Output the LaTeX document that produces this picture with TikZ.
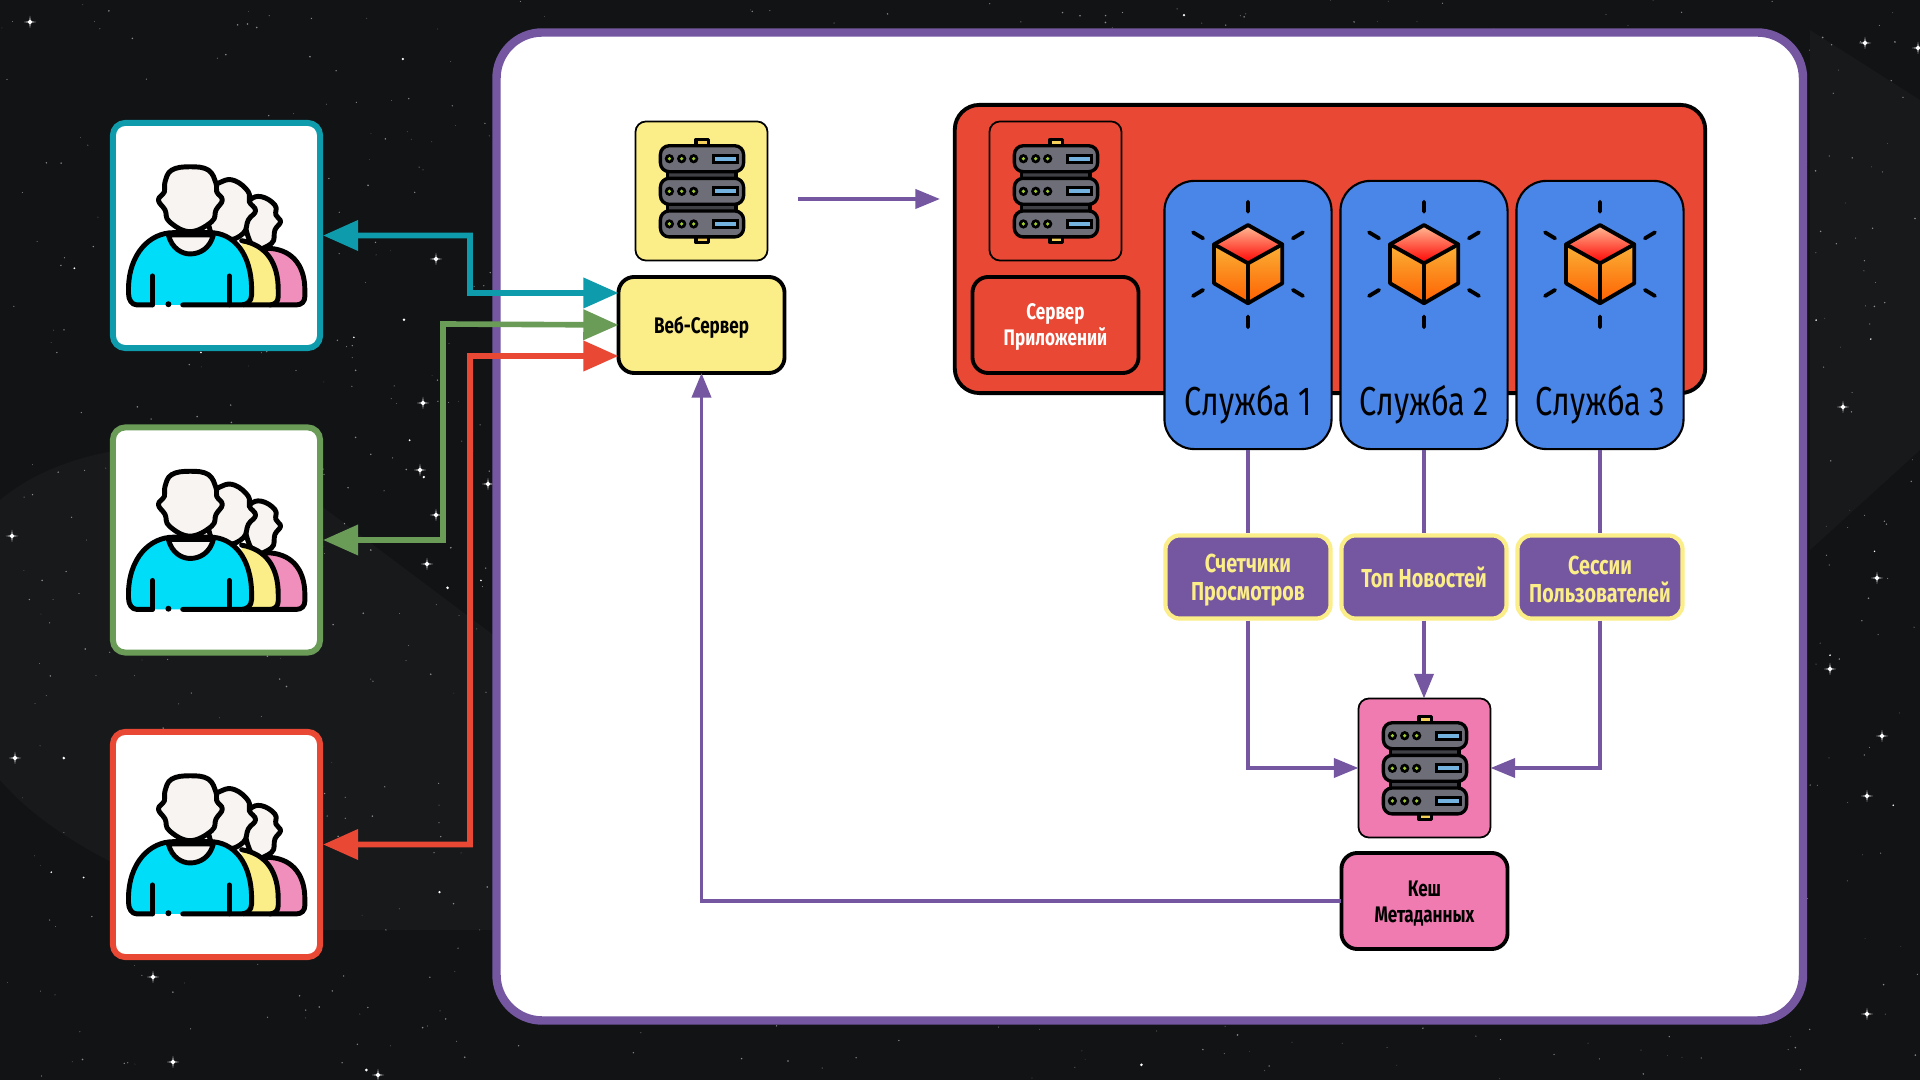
\documentclass[tikz,border=0pt]{standalone}
\usepackage{fontspec}
\newfontfamily\condfont[FakeStretch=0.76]{Fira Sans}
\usetikzlibrary{arrows.meta}

\definecolor{spacebg}{HTML}{111315}
\definecolor{spacelt}{HTML}{17191B}
\definecolor{framepurple}{HTML}{7457A0}
\definecolor{labelyellow}{HTML}{FBED87}
\definecolor{cachepink}{HTML}{EF7BB0}
\definecolor{appred}{HTML}{E84834}
\definecolor{svcblue}{HTML}{4A86E8}
\definecolor{flowteal}{HTML}{0E9CAD}
\definecolor{flowgreen}{HTML}{6A9B57}
\definecolor{skinwhite}{HTML}{F7F4F1}
\definecolor{shirtcyan}{HTML}{00DDF9}
\definecolor{rackgrey}{HTML}{6E6E78}
\definecolor{rackdark}{HTML}{3F3F46}
\definecolor{ledgreen}{HTML}{9ECB2F}
\definecolor{slotblue}{HTML}{74B3E0}
\definecolor{tabyellow}{HTML}{F5D15B}

\tikzset{
  iconbox/.style={draw=black, line width=0.5pt, rounded corners=3pt, minimum width=1.32cm, minimum height=1.39cm, outer sep=0pt},
  blacklabel/.style={draw=black, line width=1.1pt, rounded corners=4.5pt, minimum width=1.66cm, minimum height=0.96cm, outer sep=0pt,
    align=center, font=\condfont\bfseries\fontsize{6.4}{7.4}\selectfont},
  userbox/.style={draw=#1, fill=white, line width=1.7pt, rounded corners=3.5pt, minimum width=2.07cm, minimum height=2.25cm, outer sep=0.85pt},
  svcbox/.style={draw=black, fill=svcblue, line width=0.6pt, rounded corners=8.5pt, minimum width=1.67cm, minimum height=2.68cm},
  svctext/.style={font=\condfont\fontsize{11.5}{13}\selectfont},
  keybox/.style={draw=labelyellow, fill=framepurple, text=labelyellow, line width=1.2pt, rounded corners=4pt,
    minimum width=1.65cm, minimum height=0.83cm, align=center, font=\condfont\bfseries\fontsize{7.4}{8}\selectfont},
  userflow/.style={draw=#1, line width=1.6pt, {Triangle[length=10pt,width=8.4pt,fill=#1]}-{Triangle[length=10pt,width=8.4pt,fill=#1]}},
  dataflow/.style={draw=framepurple, line width=1.1pt, -{Triangle[length=7pt,width=5.4pt,fill=framepurple]}},
  dataline/.style={draw=framepurple, line width=1.1pt},
  pics/usergroup/.style={code={
    \begin{scope}[x=0.00333cm, y=0.00333cm*-1, shift={(-319.5,-256.5)}, line width=1.4pt, line cap=round, line join=round]
      % третий
      \filldraw[fill=skinwhite] plot[smooth cycle, tension=0.7] coordinates {(400,190)(420,150)(455,140)(495,165)(498,195)(512,215)(495,240)(485,280)(430,290)};
      \fill[fill=cachepink!85!white] (470,295) .. controls (540,295) and (585,340) .. (585,420) -- (585,440) .. controls (585,455) and (575,465) .. (560,465) -- (480,465) -- cycle;
      \draw (470,295) .. controls (540,295) and (585,340) .. (585,420) -- (585,440) .. controls (585,455) and (575,465) .. (560,465) -- (480,465);
      % второй
      \filldraw[fill=skinwhite] plot[smooth cycle, tension=0.7] coordinates {(300,130)(335,95)(375,92)(415,125)(418,155)(437,182)(415,210)(400,250)(350,270)(300,240)};
      \fill[fill=labelyellow] (395,272) .. controls (470,285) and (505,340) .. (505,420) -- (505,440) .. controls (505,455) and (495,465) .. (480,465) -- (400,465) -- cycle;
      \draw (395,272) .. controls (470,285) and (505,340) .. (505,420) -- (505,440) .. controls (505,455) and (495,465) .. (480,465) -- (400,465);
      % первый
      \fill[fill=skinwhite] plot[smooth cycle, tension=0.7] coordinates {(240,50)(295,60)(318,100)(320,125)(337,150)(318,180)(305,215)(240,245)(178,215)(165,180)(145,150)(163,125)(165,95)(185,60)};
      \fill[fill=shirtcyan] (55,420) .. controls (55,310) and (120,248) .. (190,248) -- (300,248) .. controls (370,248) and (425,310) .. (425,420) -- (425,435) .. controls (425,455) and (410,465) .. (395,465) -- (80,465) .. controls (65,465) and (55,450) .. (55,430) -- cycle;
      \filldraw[fill=skinwhite] (175,255) .. controls (185,295) and (215,312) .. (240,312) .. controls (270,312) and (300,295) .. (310,255) -- cycle;
      \draw plot[smooth cycle, tension=0.7] coordinates {(240,50)(295,60)(318,100)(320,125)(337,150)(318,180)(305,215)(240,245)(178,215)(165,180)(145,150)(163,125)(165,95)(185,60)};
      \draw (127,465) -- (80,465) .. controls (65,465) and (55,450) .. (55,430) -- (55,420) .. controls (55,310) and (120,248) .. (190,248) -- (300,248) .. controls (370,248) and (425,310) .. (425,420) -- (425,435) .. controls (425,455) and (410,465) .. (395,465) -- (218,465);
      \draw (127,378) -- (127,465) (358,378) -- (358,465);
      \fill (175,463) circle (9);
    \end{scope}
  }},
  pics/serverrack/.style={code={
    \begin{scope}[x=0.00333cm, y=0.00333cm*-1, shift={(-166.5,-183)}, line width=0.95pt, line join=round]
      \filldraw[fill=tabyellow] (150,28) rectangle (188,47);
      \filldraw[fill=tabyellow] (150,320) rectangle (188,338);
      \filldraw[fill=rackdark] (65,120) rectangle (270,150);
      \filldraw[fill=rackdark] (65,218) rectangle (270,248);
      \foreach \ry in {47,145,243} {
        \filldraw[fill=rackgrey, rounded corners=2.5pt] (43,\ry) rectangle (293,\ry+78);
        \foreach \lx in {70,107,143} {
          \fill (\lx,\ry+39) circle (14);
          \fill[ledgreen] (\lx,\ry+39) circle (5.5);
        }
        \fill (199,\ry+24) rectangle (279,\ry+54);
        \fill[slotblue] (208,\ry+33) rectangle (271,\ry+45);
      }
    \end{scope}
  }},
  pics/glowcube/.style={code={
    \begin{scope}[x=0.00333cm, y=0.00333cm*-1, shift={(-205,-222)}, line width=1.1pt, line join=round, line cap=round]
      \shade[top color=orange!35!white!90!red, bottom color=red] (205,105) -- (308,163) -- (205,220) -- (103,163) -- cycle;
      \shade[top color=tabyellow!60!orange, bottom color=orange!75!red] (103,163) -- (205,220) -- (205,340) -- (103,280) -- cycle;
      \shade[top color=tabyellow!60!orange, bottom color=orange!75!red] (308,163) -- (205,220) -- (205,340) -- (308,280) -- cycle;
      \draw (205,105) -- (308,163) -- (308,280) -- (205,340) -- (103,280) -- (103,163) -- cycle;
      \draw (103,163) -- (205,220) -- (308,163) (205,220) -- (205,340);
      \draw (205,35) -- (205,65) (205,380) -- (205,412) (40,127) -- (70,145) (370,127) -- (340,145) (40,318) -- (70,300) (370,318) -- (340,300);
    \end{scope}
  }},
  pics/glint/.style={code={
    \fill[white] (-6,0) -- (-0.7,-0.7) -- (0,-6) -- (0.7,-0.7) -- (6,0) -- (0.7,0.7) -- (0,6) -- (-0.7,0.7) -- cycle;
    \fill[white] (0,0) circle (2);
  }}
}

\begin{document}
\begin{tikzpicture}[x=0.01cm, y=-0.01cm]
  \useasboundingbox (0,0) rectangle (1920,1080);

  % Фон
  \fill[spacebg] (0,0) rectangle (1920,1080);
  \fill[spacelt] (0,500) .. controls (60,450) and (150,440) .. (240,445) -- (500,640) -- (500,930) -- (300,930) .. controls (180,900) and (60,850) .. (0,780) -- cycle;
  \fill[spacelt] (1810,30) -- (1920,100) -- (1920,450) -- (1810,550) -- cycle;
  \pgfmathsetseed{2718}
  \foreach \i in {1,...,1300} {
    \fill[white, fill opacity=0.5] ({rnd*1920},{rnd*1080}) circle ({0.3+rnd*0.6});
  }
  \foreach \i in {1,...,70} {
    \fill[white] ({rnd*1920},{rnd*1080}) circle ({0.8+rnd*0.7});
  }
  \foreach \sx/\sy in {423/403,436/515,488/484,420/470,15/758,12/536,153/977,173/1062,378/1075,427/564,
    1843/407,1882/736,1867/796,1918/48,1865/43,1877/578,1830/669,1867/1014,436/259,30/22} {
    \pic at (\sx,\sy) {glint};
  }

  % Рамка
  \draw[framepurple, fill=white, line width=2.4pt, rounded corners=13pt] (496.5,32.5) rectangle (1803,1020.5);

  % Пользователи
  \node[userbox=flowteal] (Users1) at (216.5,235.5) {};
  \node[userbox=flowgreen] (Users2) at (216.5,540) {};
  \node[userbox=appred] (Users3) at (216.5,844.5) {};
  \pic at (Users1) {usergroup};
  \pic at (Users2) {usergroup};
  \pic at (Users3) {usergroup};

  % Веб-сервер
  \node[iconbox, fill=labelyellow] (WebIcon) at (701.5,191) {};
  \pic at (WebIcon) {serverrack};
  \node[blacklabel, fill=labelyellow, text depth=-1pt] (Web) at (701.5,325) {Веб-Сервер};

  % Сервер приложений
  \node[draw=black, fill=appred, line width=1.1pt, rounded corners=7pt, minimum width=7.5cm, minimum height=2.88cm] (App) at (1330,249) {};
  \node[iconbox] (AppIcon) at (1055.5,191) {};
  \pic at (AppIcon) {serverrack};
  \node[blacklabel, text=white] (AppLabel) at (1055.5,325) {\rule{0pt}{5.8pt}Сервер\\Приложений};
  \coordinate (AppIn) at (940,199);
  \coordinate (WebOut) at (798,199);
  \draw[dataflow] (WebOut) -- (AppIn);

  % Службы и ключи
  \foreach \n/\cx/\keytext in {1/1248/{\rule{0pt}{6.9pt}Счетчики\\Просмотров}, 2/1424/{Топ Новостей}, 3/1600/{\rule{0pt}{6.9pt}Сессии\\Пользователей}} {
    \node[svcbox] (Svc\n) at (\cx,315) {};
    \pic at (\cx,264) {glowcube};
    \node[svctext] (SvcText\n) at (\cx,405) {Служба \n};
    \node[keybox] (Key\n) at (\cx,577) {\keytext};
    \draw[dataline] (Svc\n.south) -- (Key\n.north);
  }

  % Кеш метаданных
  \node[iconbox, fill=cachepink] (CacheIcon) at (1424.5,768) {};
  \pic at (CacheIcon) {serverrack};
  \node[blacklabel, fill=cachepink] (Cache) at (1424.5,901) {\rule{0pt}{5.8pt}Кеш\\Метаданных};

  \draw[dataflow] (Key1.south) |- (CacheIcon.west);
  \draw[dataflow] (Key2.south) -- (Key2.south |- CacheIcon.north);
  \draw[dataflow] (Key3.south) |- (CacheIcon.east);
  \draw[dataflow] (Cache.west) -| (Web.south);

  % Потоки пользователей
  \coordinate (TealBend) at (470,293);
  \coordinate (GreenBend) at (443,324);
  \coordinate (RedBend) at (470,356);
  \draw[userflow=flowteal] (Users1.east) -| (TealBend) -- ([yshift=0.32cm]Web.west);
  \draw[userflow=flowgreen] (Users2.east) -| (GreenBend) -- (Web.west);
  \draw[userflow=appred] (Users3.east) -| (RedBend) -- ([yshift=-0.31cm]Web.west);
\end{tikzpicture}
\end{document}
